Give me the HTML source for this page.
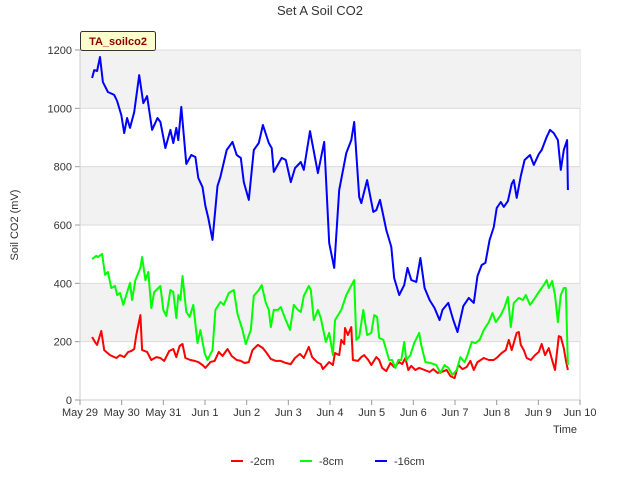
<!DOCTYPE html>
<html><head><meta charset="utf-8"><style>
body{margin:0;background:#fff;}
svg text{font-family:"Liberation Sans","DejaVu Sans",sans-serif;}
</style></head><body>
<svg id="chart" width="640" height="480" viewBox="0 0 640 480">
<text x="320" y="15" text-anchor="middle" font-size="13" fill="#333">Set A Soil CO2</text>
<text transform="translate(18,225) rotate(-90)" text-anchor="middle" font-size="11" fill="#333">Soil CO2 (mV)</text>
<text x="565" y="433" text-anchor="middle" font-size="11" fill="#333">Time</text>
<g id="bands"></g>
<g id="grid"></g>
<g id="yticks"></g>
<g id="xticks"></g>
<g id="series"></g>
<g>
<rect x="80.5" y="31.5" width="75" height="19" fill="#ffffcc" stroke="#333" rx="2"/>
<text x="118" y="45" text-anchor="middle" font-size="11" font-weight="bold" fill="#8b0000">TA_soilco2</text>
</g>
<g>
<g><line x1="231" y1="461" x2="243" y2="461" stroke="#ff0000" stroke-width="2"/><text x="250" y="465" font-size="11" fill="#333">-2cm</text></g>
<g><line x1="300" y1="461" x2="312" y2="461" stroke="#00ff00" stroke-width="2"/><text x="319" y="465" font-size="11" fill="#333">-8cm</text></g>
<g><line x1="375" y1="461" x2="387" y2="461" stroke="#0000ff" stroke-width="2"/><text x="394" y="465" font-size="11" fill="#333">-16cm</text></g>
</g>
</svg>
<script>
const yTicks=[0,200,400,600,800,1000,1200];
const xTickLabels=["May 29","May 30","May 31","Jun 1","Jun 2","Jun 3","Jun 4","Jun 5","Jun 6","Jun 7","Jun 8","Jun 9","Jun 10"];
const tBlue=[.29,.34,.41,.48,.55,.67,.82,.89,.99,1.06,1.13,1.20,1.30,1.42,1.52,1.61,1.73,1.86,1.93,2.05,2.17,2.24,2.31,2.36,2.43,2.55,2.67,2.77,2.84,2.94,3.01,3.08,3.18,3.30,3.37,3.52,3.66,3.76,3.86,3.93,4.05,4.17,4.29,4.39,4.53,4.60,4.65,4.84,4.94,5.06,5.16,5.30,5.37,5.52,5.71,5.86,5.98,6.10,6.22,6.39,6.51,6.58,6.70,6.75,6.89,7.04,7.11,7.20,7.35,7.47,7.54,7.66,7.78,7.86,7.95,8.07,8.17,8.27,8.39,8.51,8.63,8.70,8.84,8.96,9.06,9.20,9.33,9.45,9.54,9.64,9.73,9.83,9.93,10.00,10.10,10.17,10.27,10.36,10.41,10.48,10.58,10.67,10.80,10.89,11.01,11.08,11.20,11.28,11.37,11.47,11.54,11.61,11.69,11.71];
const vBlue=[1104,1131,1128,1176,1090,1056,1046,1025,977,915,967,933,987,1114,1018,1042,926,967,953,864,926,881,933,891,1005,809,840,833,761,730,665,624,549,734,765,857,885,840,830,747,686,857,881,943,881,864,782,830,823,747,795,816,789,922,778,885,538,453,720,847,891,953,696,675,754,645,651,686,583,525,418,360,394,453,411,405,487,384,343,315,274,309,333,274,233,322,350,333,425,463,470,549,593,658,679,662,682,741,754,693,768,823,840,806,843,857,902,926,915,891,789,857,891,720];
const tGreen=[.29,.39,.43,.53,.60,.67,.75,.84,.89,.96,1.04,1.11,1.20,1.25,1.33,1.45,1.49,1.57,1.64,1.71,1.78,1.93,2.00,2.07,2.17,2.24,2.31,2.36,2.41,2.46,2.55,2.63,2.72,2.82,2.89,2.99,3.06,3.18,3.25,3.37,3.45,3.57,3.69,3.78,3.90,3.98,4.10,4.17,4.29,4.36,4.46,4.53,4.58,4.65,4.75,4.82,4.94,5.04,5.13,5.23,5.30,5.37,5.49,5.54,5.61,5.71,5.78,5.90,5.98,6.07,6.12,6.27,6.39,6.58,6.63,6.70,6.80,6.89,6.99,7.06,7.13,7.18,7.28,7.35,7.42,7.49,7.57,7.64,7.71,7.78,7.83,7.93,8.02,8.14,8.19,8.29,8.41,8.55,8.65,8.75,8.84,8.94,9.04,9.13,9.23,9.30,9.40,9.49,9.59,9.69,9.81,9.90,9.98,10.10,10.19,10.27,10.34,10.41,10.53,10.63,10.70,10.80,10.92,11.01,11.13,11.20,11.25,11.33,11.40,11.47,11.54,11.61,11.66,11.71];
const vGreen=[483,494,490,501,429,439,384,391,360,367,326,360,401,343,411,453,490,411,439,315,370,391,309,288,377,370,281,360,343,425,302,285,326,195,240,161,137,171,309,336,326,367,377,295,240,192,240,357,377,394,333,309,250,309,309,319,274,240,326,309,302,357,391,377,274,309,281,199,230,154,274,309,360,411,206,216,309,223,230,291,285,213,206,171,137,137,110,137,137,199,137,154,195,230,189,130,127,120,93,120,110,86,103,147,130,154,199,195,206,240,267,298,267,291,319,353,250,333,350,343,360,326,350,370,394,411,384,408,360,267,360,384,384,120];
const tRed=[.29,.36,.41,.51,.58,.72,.87,.96,1.06,1.16,1.23,1.30,1.35,1.45,1.49,1.61,1.71,1.83,1.93,2.02,2.14,2.24,2.31,2.39,2.46,2.53,2.65,2.75,2.84,2.94,3.01,3.13,3.23,3.33,3.42,3.54,3.64,3.76,3.86,3.95,4.05,4.14,4.27,4.39,4.48,4.58,4.70,4.82,4.94,5.06,5.16,5.28,5.37,5.49,5.57,5.69,5.78,5.83,5.98,6.07,6.12,6.22,6.27,6.34,6.36,6.43,6.51,6.55,6.67,6.75,6.82,6.92,6.99,7.11,7.18,7.25,7.35,7.45,7.54,7.66,7.73,7.81,7.88,7.95,8.05,8.14,8.27,8.39,8.48,8.58,8.67,8.80,8.89,8.99,9.08,9.18,9.28,9.37,9.45,9.54,9.69,9.81,9.93,10.02,10.12,10.22,10.29,10.36,10.48,10.53,10.58,10.65,10.72,10.82,10.92,11.01,11.08,11.16,11.25,11.33,11.40,11.49,11.54,11.61,11.66,11.71];
const vRed=[216,199,189,237,171,154,144,154,147,165,168,175,223,291,171,165,137,147,144,134,168,175,147,185,192,144,137,134,130,120,110,130,134,165,151,175,151,137,134,127,130,171,189,178,161,141,134,134,127,123,144,158,144,182,147,130,123,106,130,120,161,154,206,192,247,223,250,137,134,147,154,137,120,147,137,110,99,127,113,130,123,144,103,117,103,110,103,96,106,93,96,103,82,75,120,106,113,134,103,130,144,137,137,147,161,171,206,171,230,233,189,171,144,137,154,165,192,154,178,137,103,219,216,178,137,103];

const NS="http://www.w3.org/2000/svg";
const L=80,R=580,T=50,B=400;
const x=t=>L+t*(R-L)/12;
const y=v=>B-v*(B-T)/1200;
function mk(tag,attrs,parent){const e=document.createElementNS(NS,tag);for(const k in attrs)e.setAttribute(k,attrs[k]);parent.appendChild(e);return e;}
const bands=document.getElementById('bands'),grid=document.getElementById('grid'),yt=document.getElementById('yticks'),xt=document.getElementById('xticks'),ser=document.getElementById('series');
mk('rect',{x:L,y:T,width:R-L,height:B-T,fill:'#fff',stroke:'#ddd'},bands);
for(let i=0;i<yTicks.length-1;i++){
  if(i%2===1){const r=mk('rect',{x:L,y:y(yTicks[i+1]),width:R-L,height:y(yTicks[i])-y(yTicks[i+1]),fill:'#f2f2f2'},bands);
  
  }
}
yTicks.forEach(v=>{
  const g=mk('line',{x1:L,x2:R,y1:y(v),y2:y(v),stroke:'#dcdcdc','stroke-width':1},grid);
  
  
  const tk=mk('line',{x1:L-5,x2:L,y1:y(v),y2:y(v),stroke:'#999'},yt);
  
  
  const tx=mk('text',{x:L-8,y:y(v)+4,'text-anchor':'end','font-size':11,fill:'#333'},yt);
  tx.textContent=v;
  
  
});
mk('line',{x1:L,x2:L,y1:T,y2:B,stroke:'#ccc'},yt);
mk('line',{x1:L,x2:R,y1:B,y2:B,stroke:'#ccc'},xt);
xTickLabels.forEach((lab,i)=>{
  const tk=mk('line',{x1:x(i),x2:x(i),y1:B,y2:B+5,stroke:'#999'},xt);
  
  
  const tx=mk('text',{x:x(i),y:B+16,'text-anchor':'middle','font-size':11,fill:'#333'},xt);
  tx.textContent=lab;
  
  
});
function line(ts,vs,color,name){
  const d=ts.map((t,i)=>(i?'L':'M')+x(t).toFixed(1)+' '+y(vs[i]).toFixed(1)).join(' ');
  const p=mk('path',{d:d,fill:'none',stroke:color,'stroke-width':2,'stroke-linejoin':'round'},ser);
  
  
}
line(tRed,vRed,'#ff0000','line-2cm');
line(tGreen,vGreen,'#00ff00','line-8cm');
line(tBlue,vBlue,'#0000ff','line-16cm');
</script>
</body></html>
